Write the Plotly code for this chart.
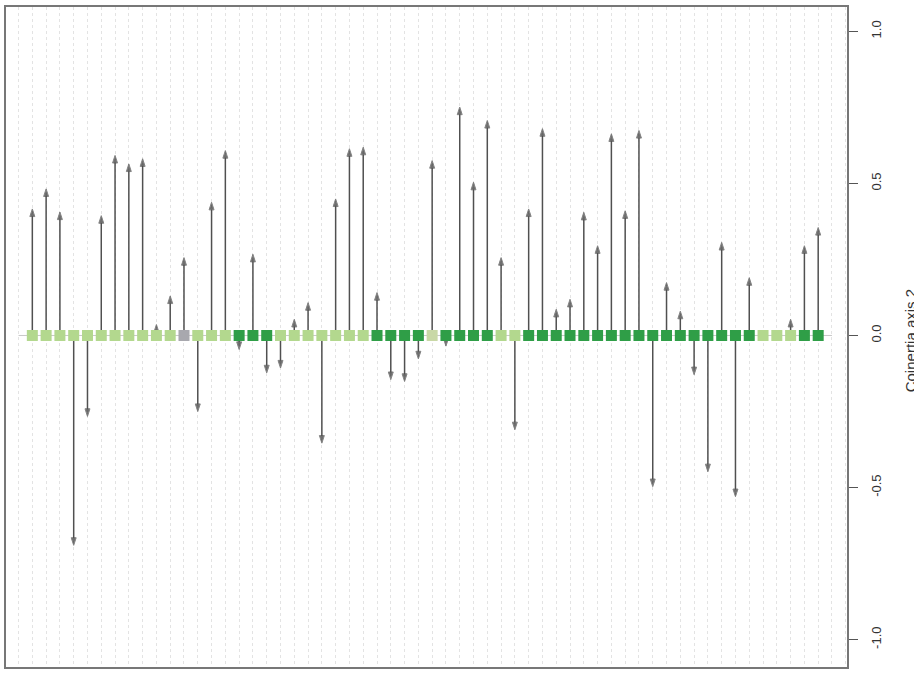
import plotly.graph_objects as go

# Co-inertia axis 2 scores (arrow tips), one per sample, in plotting order
values = [0.416, 0.482, 0.406, -0.69, -0.266, 0.394, 0.592, 0.564, 0.581, 0.036,
          0.13, 0.256, -0.25, 0.438, 0.608, -0.046, 0.267, -0.123, -0.107, 0.053,
          0.108, -0.354, 0.449, 0.614, 0.619, 0.141, -0.145, -0.151, -0.077, 0.575,
          -0.035, 0.751, 0.504, 0.707, 0.256, -0.31, 0.416, 0.68, 0.086, 0.119,
          0.405, 0.295, 0.663, 0.41, 0.674, -0.497, 0.174, 0.08, -0.129, -0.448,
          0.306, -0.53, 0.19, 0.0, 0.0, 0.053, 0.295, 0.355]
# Group of each sample (marker colour)
groups = (["light"] * 11 + ["gray"] + ["light"] * 3 + ["dark"] * 3 + ["light"] * 7
          + ["dark"] * 4 + ["pale"] + ["dark"] * 4 + ["light"] * 2 + ["dark"] * 17
          + ["light"] * 3 + ["dark"] * 2)
group_colors = {"light": "#b3d88e", "dark": "#2f9e47", "gray": "#a8a8ae", "pale": "#c9d8a6"}
tick_vals = [-1.0, -0.5, 0.0, 0.5, 1.0]
tick_text = ["-1.0", "-0.5", "0.0", "0.5", "1.0"]
axis_title = "Coinertia axis 2"

n = len(values)
positions = list(range(n))

fig = go.Figure()

# baseline at zero
fig.add_trace(go.Scatter(x=[-1, n], y=[0, 0], mode="lines",
                         line=dict(color="#c8c8c8", width=1), hoverinfo="skip", showlegend=False))

# arrows
for i, v in zip(positions, values):
    if v == 0:
        continue
    fig.add_trace(go.Scatter(
        x=[i, i], y=[0, v], mode="lines+markers",
        line=dict(color="#505050", width=1.5),
        marker=dict(symbol="arrow", size=[0, 8], angleref="previous", color="#333333"),
        hoverinfo="skip", showlegend=False))

# squares
fig.add_trace(go.Scatter(
    x=positions, y=[0] * n, mode="markers",
    marker=dict(symbol="square", size=11, color=[group_colors[g] for g in groups],
                line=dict(width=0)),
    hoverinfo="skip", showlegend=False))

fig.add_annotation(text=axis_title, textangle=-90, xref="paper", yref="paper",
                   x=1 + (910 - 847) / 841, y=0.495, xanchor="center", yanchor="middle",
                   showarrow=False, font=dict(family="Liberation Sans, Arial", size=15, color="#333333"))

fig.update_layout(
    width=914, height=675,
    margin=dict(l=6, r=67, t=7, b=8, autoexpand=False),
    paper_bgcolor="white", plot_bgcolor="white",
    hovermode=False,
    xaxis=dict(range=[-1.91, 59.09], tickmode="linear", tick0=-1, dtick=1,
               showgrid=True, gridcolor="#e3e3e3", griddash="dot", gridwidth=1,
               showticklabels=False, ticks="", zeroline=False,
               showline=True, mirror=True, linecolor="#777777", linewidth=1.5),
    yaxis=dict(range=[-1.09, 1.08], side="right", tickvals=tick_vals, ticktext=tick_text,
               tickangle=-90, ticks="outside", ticklen=9, tickcolor="#555555",
               ticklabelstandoff=8,
               showgrid=False, zeroline=False,
               showline=True, mirror=True, linecolor="#777777", linewidth=1.5,
               tickfont=dict(family="Liberation Sans, Arial", size=13, color="#333333")),
)

fig.write_html("out.html", config={"displayModeBar": False},
               post_script="document.body.style.margin='0';")
